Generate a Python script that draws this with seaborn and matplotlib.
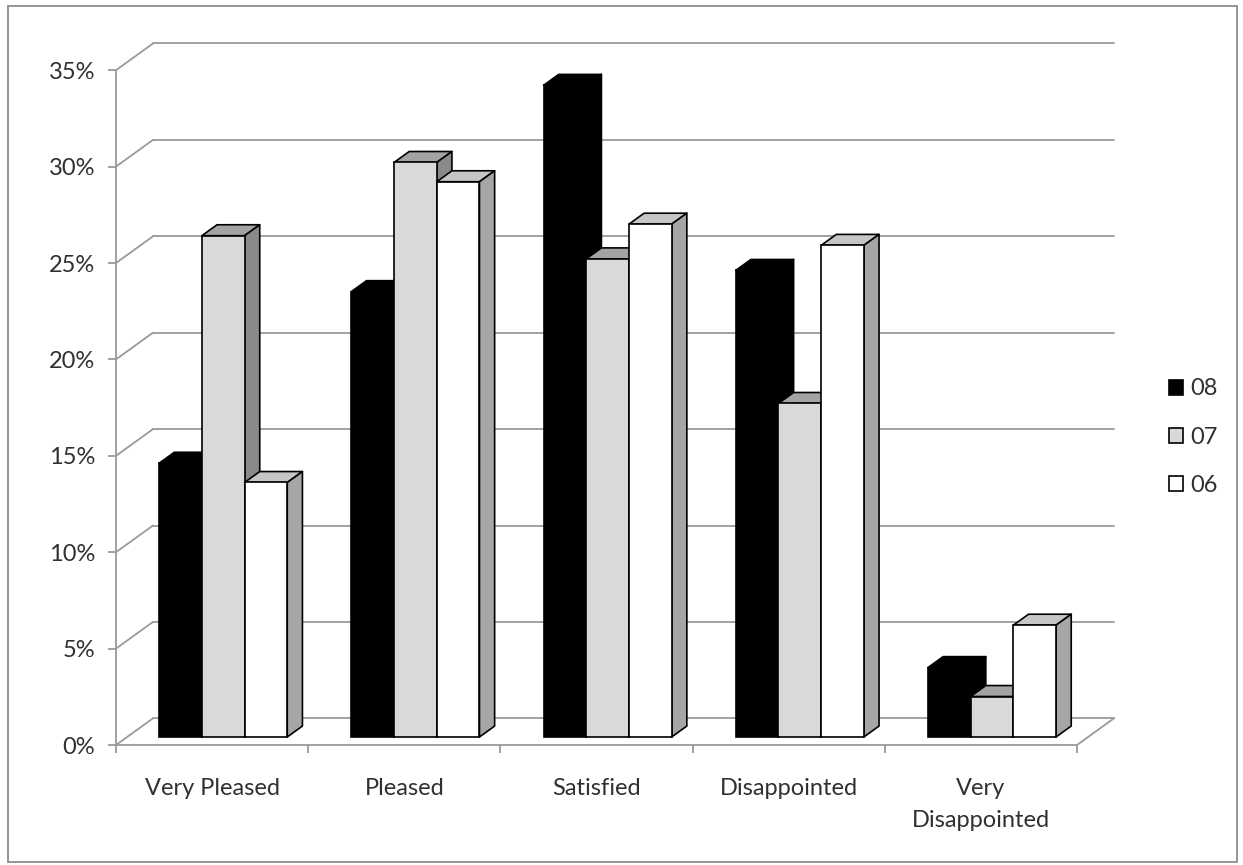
import matplotlib
matplotlib.use("Agg")
import matplotlib.pyplot as plt
from matplotlib.patches import Polygon, Patch, Rectangle
import numpy as np
import pandas as pd
import seaborn as sns

# Survey results: share of respondents per satisfaction level, by year
categories = ["Very Pleased", "Pleased", "Satisfied", "Disappointed", "Very\nDisappointed"]
years = ["08", "07", "06"]
share_08 = [14.2, 23.1, 33.8, 24.2, 3.6]
share_07 = [26.0, 29.8, 24.8, 17.3, 2.1]
share_06 = [13.2, 28.8, 26.6, 25.5, 5.8]
y_ticks = [0, 5, 10, 15, 20, 25, 30, 35]
y_tick_labels = [f"{t}%" for t in y_ticks]

df = pd.DataFrame({
    "level": categories * 3,
    "year": [y for y in years for _ in categories],
    "share": share_08 + share_07 + share_06,
})

sns.set_theme(style="white")
plt.rcParams["font.family"] = ["Lato", "DejaVu Sans"]

W, H = 1243, 865
fig = plt.figure(figsize=(W / 100, H / 100), dpi=100)

# pixel geometry of the front plane
PX_LEFT, PX_CAT = 116, 192.2          # front-left x, pixels per category
PY_ZERO, PY_PCT = 745, 19.28          # front floor y, pixels per percent
ax_l, ax_r, ax_b, ax_t = 116, 1130, 760, 30
ax = fig.add_axes([ax_l / W, (H - ax_b) / H, (ax_r - ax_l) / W, (ax_b - ax_t) / H])

front = {"08": "#000000", "07": "#d9d9d9", "06": "#ffffff"}
top_c = {"08": "#000000", "07": "#a3a3a3", "06": "#c6c6c6"}
side_c = {"08": "#000000", "07": "#8a8a8a", "06": "#a6a6a6"}

sns.barplot(data=df, x="level", y="share", hue="year", hue_order=years,
            palette=front, width=2 / 3, saturation=1, edgecolor="black",
            linewidth=1.2, legend=False, ax=ax)

xmin = -0.5
xmax = xmin + (ax_r - ax_l) / PX_CAT
ymin = (PY_ZERO - ax_b) / PY_PCT
ymax = (PY_ZERO - ax_t) / PY_PCT
ax.set_xlim(xmin, xmax)
ax.set_ylim(ymin, ymax)

# depth of the floor and of the bars (data units)
DX = 37 / PX_CAT
DY = 26.7 / PY_PCT
D0, DB = 0.30, 0.41
grid_col = "#9a9a9a"
glw = 1.3

# back wall and left wall gridlines
for v in y_ticks:
    ax.plot([xmin + DX, 4.5 + DX], [v + DY, v + DY], color=grid_col, lw=glw, zorder=1)
    ax.plot([xmin, xmin + DX], [v, v + DY], color=grid_col, lw=glw, zorder=1)
# floor right edge
ax.plot([4.5, 4.5 + DX], [0, DY], color=grid_col, lw=glw, zorder=1)

# shift bars into depth and add top / side faces
sx, base = D0 * DX, D0 * DY
bdx, bdy = DB * DX, DB * DY
for k, (yr, cont) in enumerate(zip(years, ax.containers)):
    for p in cont.patches:
        xl = p.get_x() + sx
        w = p.get_width()
        h = p.get_height()
        xr = xl + w
        p.set_x(xl)
        p.set_y(base)
        p.set_zorder(3 + 2 * k + 1)
        tp = h + base
        ax.add_patch(Polygon([(xl, tp), (xr, tp), (xr + bdx, tp + bdy), (xl + bdx, tp + bdy)],
                             closed=True, facecolor=top_c[yr], edgecolor="black",
                             lw=1.2, joinstyle="round", zorder=3 + 2 * k))
        ax.add_patch(Polygon([(xr, base), (xr + bdx, base + bdy), (xr + bdx, tp + bdy), (xr, tp)],
                             closed=True, facecolor=side_c[yr], edgecolor="black",
                             lw=1.2, joinstyle="round", zorder=3 + 2 * k))

# axes: front-left value axis and front floor edge
for s in ["top", "right"]:
    ax.spines[s].set_visible(False)
ax.spines["left"].set_bounds(0, 35)
ax.spines["left"].set_color(grid_col)
ax.spines["left"].set_linewidth(glw)
ax.spines["bottom"].set_position(("data", 0))
ax.spines["bottom"].set_bounds(-0.5, 4.5)
ax.spines["bottom"].set_color(grid_col)
ax.spines["bottom"].set_linewidth(glw)

text_col = "#303030"
fs = 17
ax.set_yticks(y_ticks)
ax.set_yticklabels(y_tick_labels)
ax.tick_params(axis="y", direction="out", length=6, width=glw, color=grid_col,
               pad=9, labelsize=fs, labelcolor=text_col, left=True)
ax.set_xticks(np.arange(-0.5, 5, 1.0))
ax.set_xticklabels([])
ax.set_xticks(np.arange(5), minor=True)
ax.set_xticklabels(categories, minor=True, fontsize=fs, color=text_col,
                   linespacing=1.65)
ax.tick_params(axis="x", which="major", direction="out", length=6, width=glw,
               color=grid_col, bottom=True)
ax.tick_params(axis="x", which="minor", length=0, pad=24)
ax.set_xlabel("")
ax.set_ylabel("")

handles = [Patch(facecolor=front[y], edgecolor="black", lw=1.2) for y in years]
fig.legend(handles, years, loc="center left",
           bbox_to_anchor=(1157 / W, 1 - 437 / H), frameon=False,
           fontsize=fs, labelcolor=text_col, handlelength=0.6, handleheight=0.6,
           handletextpad=0.3, labelspacing=1.15, borderpad=0)

# outer frame
fig.patches.append(Rectangle((8 / W, 1 - 862 / H), (1237 - 8) / W, (862 - 6) / H,
                             transform=fig.transFigure, fill=False,
                             edgecolor="#8c8c8c", lw=1.3))

fig.savefig("out.png", dpi=100)
